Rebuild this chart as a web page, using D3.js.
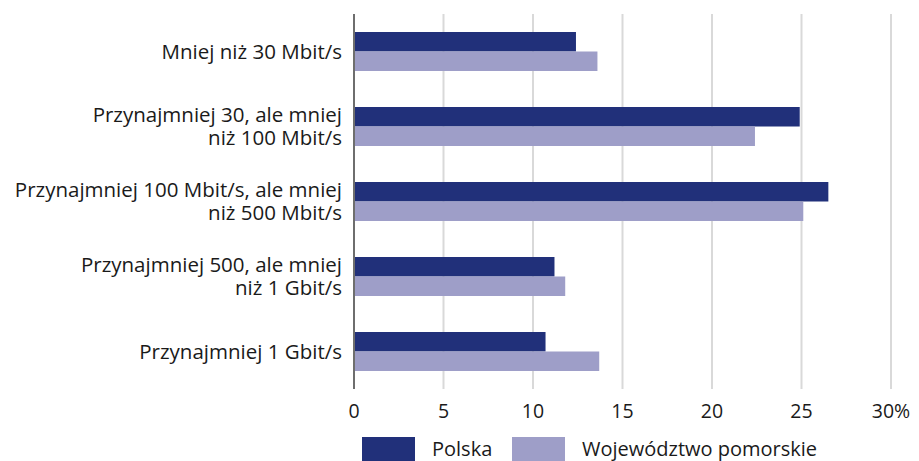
<!DOCTYPE html>
<html>
<head>
<meta charset="utf-8">
<script src="https://cdn.jsdelivr.net/npm/d3@7"></script>
<style>
  body { margin: 0; background: #fff; }
  text { font-family: "Open Sans", "Noto Sans", sans-serif; fill: #1a1a1a; }
</style>
</head>
<body>
<div id="content"></div>
<script>
// Data.
var categories = [
  ['Mniej niż 30 Mbit/s'],
  ['Przynajmniej 30, ale mniej', 'niż 100 Mbit/s'],
  ['Przynajmniej 100 Mbit/s, ale mniej', 'niż 500 Mbit/s'],
  ['Przynajmniej 500, ale mniej', 'niż 1 Gbit/s'],
  ['Przynajmniej 1 Gbit/s']
];
var seriesNames = ['Polska', 'Województwo pomorskie'];
var polska = [12.4, 24.9, 26.5, 11.2, 10.7];
var pomorskie = [13.6, 22.4, 25.1, 11.8, 13.7];
var tickValues = [0, 5, 10, 15, 20, 25, 30];
var colors = ['#21307a', '#9e9ec8'];

var width = 919, height = 461;
var margin = {left : 354, right : 28, top : 14, bottom : 72};
var svg = d3.select('#content')
              .append('svg')
              .attr('width', width)
              .attr('height', height);

var g = svg.append('g').attr('transform', 'translate(' + margin.left + ',' + margin.top + ')');
var innerW = width - margin.left - margin.right;
var innerH = height - margin.top - margin.bottom;

var x = d3.scaleLinear().domain([0, 30]).range([0, innerW]);
var y = d3.scaleBand().domain(d3.range(categories.length)).range([0, innerH]).paddingInner(0.48).paddingOuter(0.24);
var ySub = d3.scaleBand().domain([0, 1]).range([0, y.bandwidth()]);

// Gridlines
g.selectAll('.grid')
  .data(tickValues.slice(1))
  .enter()
  .append('line')
  .attr('x1', function(d) { return x(d); })
  .attr('x2', function(d) { return x(d); })
  .attr('y1', 0)
  .attr('y2', innerH)
  .attr('stroke', '#d9d9d9')
  .attr('stroke-width', 2);

// Bars
var series = [polska, pomorskie];
series.forEach(function(vals, si) {
  g.selectAll('.bar' + si)
    .data(vals)
    .enter()
    .append('rect')
    .attr('x', 0)
    .attr('y', function(d, i) { return y(i) + ySub(si); })
    .attr('width', function(d) { return x(d); })
    .attr('height', ySub.bandwidth())
    .attr('fill', colors[si]);
});

// Axis line at zero
g.append('line')
  .attr('x1', 0).attr('x2', 0)
  .attr('y1', 0).attr('y2', innerH)
  .attr('stroke', '#6e6e6e')
  .attr('stroke-width', 2);

// Tick labels
g.selectAll('.tick')
  .data(tickValues)
  .enter()
  .append('text')
  .attr('x', function(d) { return x(d); })
  .attr('y', innerH + 29)
  .attr('text-anchor', 'middle')
  .attr('font-size', 19.5)
  .text(function(d) { return d === 30 ? '30%' : d; });

// Category labels
var labels = g.selectAll('.cat')
  .data(categories)
  .enter()
  .append('text')
  .attr('text-anchor', 'end')
  .attr('font-size', 20.5)
  .attr('transform', function(d, i) {
    return 'translate(-12,' + (y(i) + y.bandwidth() / 2) + ')';
  });
labels.selectAll('tspan')
  .data(function(d) { return d.map(function(s, j) { return {s : s, j : j, n : d.length}; }); })
  .enter()
  .append('tspan')
  .attr('x', 0)
  .attr('y', function(d) { return (d.j - (d.n - 1) / 2) * 23.5; })
  .attr('dy', '0.35em')
  .text(function(d) { return d.s; });

// Legend
var legend = svg.append('g').attr('transform', 'translate(362,437)');
var legX = [0, 150];
seriesNames.forEach(function(name, i) {
  legend.append('rect')
    .attr('x', legX[i]).attr('y', 0)
    .attr('width', 53).attr('height', 24)
    .attr('fill', colors[i]);
  legend.append('text')
    .attr('x', legX[i] + 70).attr('y', 12)
    .attr('dy', '0.35em')
    .attr('font-size', 20)
    .text(name);
});
</script>
</body>
</html>
